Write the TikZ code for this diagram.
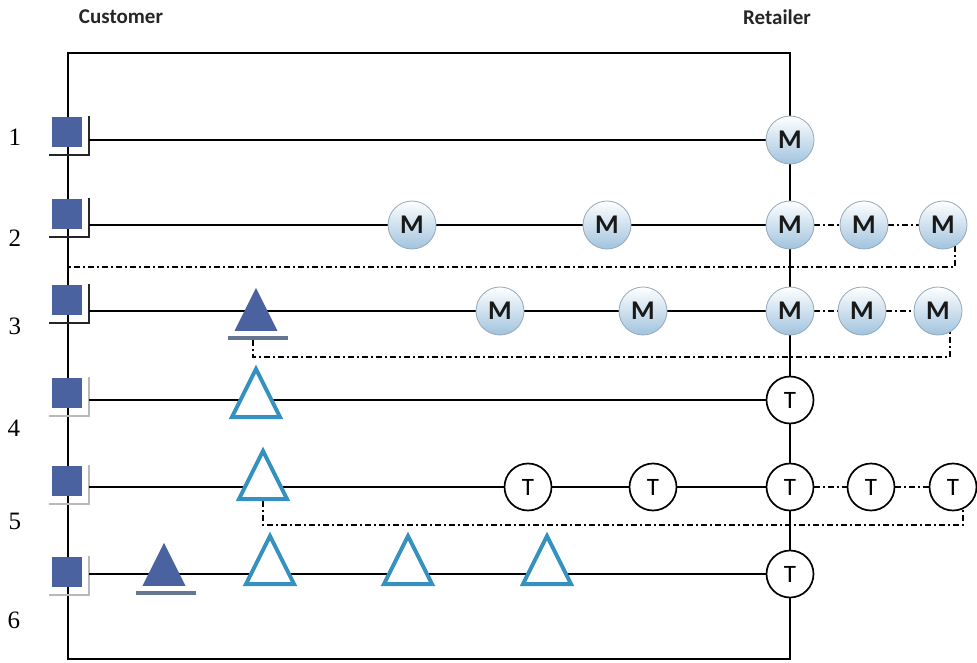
\documentclass[tikz,border=0pt]{standalone}
\usepackage{fontspec}
\newfontfamily\carl{Carlito}
\newfontfamily\libserif{Liberation Serif}
\usetikzlibrary{shapes.geometric,backgrounds}
\definecolor{sqblue}{RGB}{74,99,160}
\definecolor{triline}{RGB}{52,145,192}
\definecolor{barcol}{RGB}{100,118,145}
\definecolor{mblue}{RGB}{160,195,222}
\definecolor{mrim}{RGB}{150,168,186}

\tikzset{
  flow/.style={line width=1.7pt, black},
  aux/.style={line width=1.7pt, black, dash pattern=on 6pt off 3pt on 2pt off 3pt},
  sqnode/.style={rectangle, fill=sqblue, minimum size=30pt, inner sep=0pt},
  hardrim/.style={line width=2.4pt, black!85},
  softrim/.style={line width=2.4pt, gray!55},
  mnode/.style={circle, minimum size=48pt, inner sep=0pt, top color=white,
    bottom color=mblue, draw=mrim, line width=0.8pt,
    font=\carl\bfseries\fontsize{27}{27}\selectfont, text=black!90},
  tnode/.style={circle, minimum size=47pt, inner sep=0pt, fill=white,
    draw=black, line width=1.7pt, font=\carl\fontsize{25}{25}\selectfont},
  opentri/.style={isosceles triangle, shape border rotate=90,
    isosceles triangle stretches, minimum width=48pt, minimum height=48pt,
    inner sep=0pt, draw=triline, line width=4pt, fill=white, anchor=lower side},
  fulltri/.style={isosceles triangle, shape border rotate=90,
    isosceles triangle stretches, minimum width=43pt, minimum height=43pt,
    inner sep=0pt, fill=sqblue, anchor=lower side},
  barnode/.style={rectangle, fill=barcol, minimum width=60pt, minimum height=4pt, inner sep=0pt},
  hdr/.style={font=\carl\bfseries\fontsize{21}{21}\selectfont, text=black!85},
  rownum/.style={font=\libserif\fontsize{25}{25}\selectfont},
}

\begin{document}
\begin{tikzpicture}[x=1pt, y=-1pt]
\useasboundingbox (0,0) rectangle (977,663);

% column headers
\node[hdr] (hcust) at (121,17) {Customer};
\node[hdr] (hret) at (777,17) {Retailer};

% row numbers
\node[rownum] (n1) at (15,137) {1};
\node[rownum] (n2) at (15,238) {2};
\node[rownum] (n3) at (15,326) {3};
\node[rownum] (n4) at (14,428) {4};
\node[rownum] (n5) at (15,521) {5};
\node[rownum] (n6) at (14,620) {6};

% customer squares
\node[sqnode] (s1) at (67,132) {};
\node[sqnode] (s2) at (67,214) {};
\node[sqnode] (s3) at (67,300) {};
\node[sqnode] (s4) at (67,393) {};
\node[sqnode] (s5) at (67,481) {};
\node[sqnode] (s6) at (67,572) {};

% start points of the row lines
\coordinate (r1) at (89,140);
\coordinate (r2) at (89,225);
\coordinate (r3) at (89,311);
\coordinate (r4) at (89,400);
\coordinate (r5) at (89,487);
\coordinate (r6) at (89,574);

% frame corners
\coordinate (ftl) at (68,53);
\coordinate (ftr) at (790,53);
\coordinate (fbl) at (68,659);
\coordinate (fbr) at (790,659);

% row 1
\node[mnode] (m1) at (790,140) {M};
% row 2
\node[mnode] (m2a) at (412,225) {M};
\node[mnode] (m2b) at (607,225) {M};
\node[mnode] (m2c) at (790,225) {M};
\node[mnode] (m2d) at (864,225) {M};
\node[mnode] (m2e) at (943,225) {M};
% row 3
\node[fulltri] (ft3) at (256,331) {};
\node[barnode] (bar3) at (258,338) {};
\node[mnode] (m3a) at (500,311) {M};
\node[mnode] (m3b) at (643,311) {M};
\node[mnode] (m3c) at (790,311) {M};
\node[mnode] (m3d) at (862,311) {M};
\node[mnode] (m3e) at (938,311) {M};
% row 4
\node[opentri] (ot4) at (256,419) {};
\node[tnode] (t4) at (790,400) {T};
% row 5
\node[opentri] (ot5) at (263,501) {};
\node[tnode] (t5a) at (528,487) {T};
\node[tnode] (t5b) at (653,487) {T};
\node[tnode] (t5c) at (790,487) {T};
\node[tnode] (t5d) at (871,487) {T};
\node[tnode] (t5e) at (953,487) {T};
% row 6
\node[fulltri] (ft6) at (164,586) {};
\node[barnode] (bar6) at (166,593) {};
\node[opentri] (ot6a) at (270,586) {};
\node[opentri] (ot6b) at (408,586) {};
\node[opentri] (ot6c) at (547,586) {};
\node[tnode] (t6) at (790,574) {T};

\begin{scope}[on background layer]
  % outer frame and retailer column
  \draw[flow] (m1) -- (ftr) -- (ftl) -- (fbl) -- (fbr) -- (t6);
  \draw[flow] (m1) -- (m2c) -- (m3c) -- (t4) -- (t5c) -- (t6);
  % brackets beside the squares
  \foreach \s in {s1,s2,s3}
    \draw[hardrim] ([xshift=7pt,yshift=1pt]\s.north east) |- ([xshift=-3pt,yshift=-8pt]\s.south west);
  \foreach \s in {s4,s5,s6}
    \draw[softrim] ([xshift=7pt,yshift=1pt]\s.north east) |- ([xshift=-3pt,yshift=-8pt]\s.south west);
  % row lines
  \draw[flow] (r1) -- (m1);
  \draw[flow] (r2) -- (m2a) -- (m2b) -- (m2c);
  \draw[flow] (r3) -- (m3a) -- (m3b) -- (m3c);
  \draw[flow] (r4) -- (t4);
  \draw[flow] (r5) -- (t5a) -- (t5b) -- (t5c);
  \draw[flow] (r6) -- (t6);
  % dash-dot links
  \draw[aux] (m2c) -- (m2d) -- (m2e);
  \draw[aux] (m3c) -- (m3d) -- (m3e);
  \draw[aux] (t5c) -- (t5d) -- (t5e);
  \coordinate (d2) at (68,267);
  \coordinate (d3) at (600,357);
  \coordinate (d5) at (600,525);
  \draw[aux] (m2e.-60) |- (d2);
  \draw[aux] ([xshift=-5pt]bar3.south) |- (d3) -| (m3e.-60);
  \draw[aux] (ot5.lower side) |- (d5) -| (t5e.-65);
\end{scope}
\end{tikzpicture}
\end{document}
